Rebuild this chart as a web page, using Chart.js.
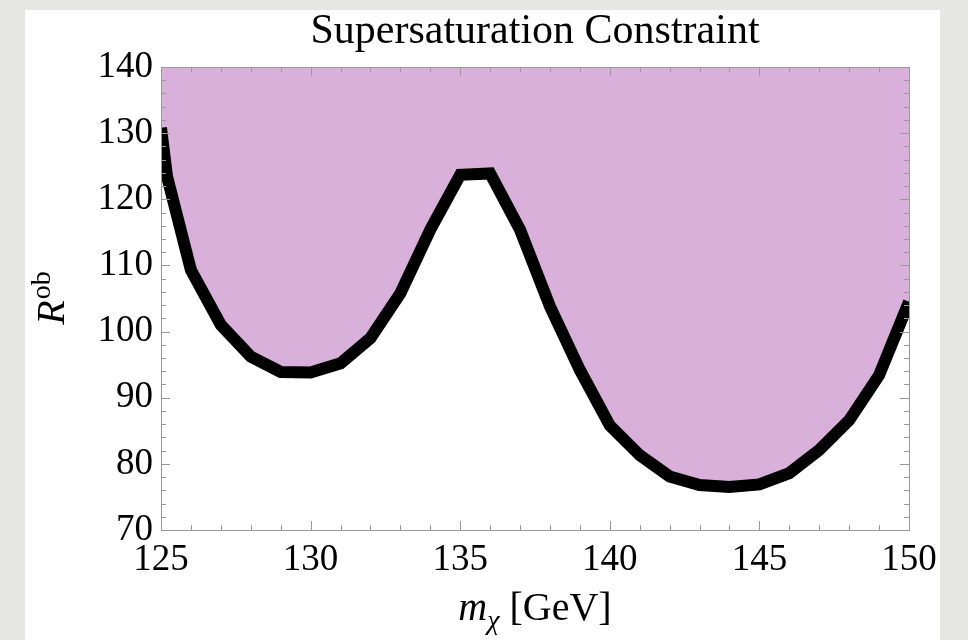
<!DOCTYPE html>
<html>
<head>
<meta charset="utf-8">
<script src="https://cdn.jsdelivr.net/npm/chart.js@4.4.1/dist/chart.umd.min.js"></script>
<style>
html,body{margin:0;padding:0;}
body{width:968px;height:640px;background:#e6e6e2;position:relative;overflow:hidden;}
#panel{position:absolute;left:25px;top:10px;width:915px;height:630px;background:#fff;}
#grafica{position:absolute;left:0;top:0;}
</style>
</head>
<body>
<div id="panel"></div>
<canvas id="grafica" width="968" height="640"></canvas>
<script>
// datos
var masas = [125, 125.2, 126, 127, 128, 129, 130, 131, 132, 133, 134, 135, 136, 137,
             138, 139, 140, 141, 142, 143, 144, 145, 146, 147, 148, 149, 150];
var rob = [130.8, 123.5, 109.3, 101.0, 96.2, 93.9, 93.8, 95.2, 99.0, 105.8, 115.4, 123.7, 123.9, 115.4,
           103.8, 94.2, 85.8, 81.3, 78.1, 76.8, 76.5, 76.9, 78.6, 82.1, 86.6, 93.4, 104.5];
var ticksX = [125, 130, 135, 140, 145, 150];
var ticksY = [70, 80, 90, 100, 110, 120, 130, 140];
var titulo = "Supersaturation Constraint";

var fuente = "'Liberation Serif', 'Times New Roman', serif";

var marco = {
    id: "marco",
    afterDatasetsDraw: function(chart){
        var ctx = chart.ctx, a = chart.chartArea;
        var sx = chart.scales.x, sy = chart.scales.y;
        ctx.save();
        ctx.strokeStyle = "#999999";
        ctx.lineWidth = 1;
        ctx.beginPath();
        for (var v = sx.min; v <= sx.max; v++){
            var px = Math.round(sx.getPixelForValue(v)) + 0.5;
            var l = (v % 5 == 0) ? 9 : 5;
            ctx.moveTo(px, a.bottom); ctx.lineTo(px, a.bottom - l);
            ctx.moveTo(px, a.top); ctx.lineTo(px, a.top + l);
        }
        for (var w = sy.min; w <= sy.max; w += 2){
            var py = Math.round(sy.getPixelForValue(w)) + 0.5;
            var l2 = (w % 10 == 0) ? 9 : 5;
            ctx.moveTo(a.left, py); ctx.lineTo(a.left + l2, py);
            ctx.moveTo(a.right, py); ctx.lineTo(a.right - l2, py);
        }
        ctx.stroke();
        ctx.strokeRect(Math.round(a.left) + 0.5, Math.round(a.top) + 0.5,
                       Math.round(a.right - a.left), Math.round(a.bottom - a.top));
        ctx.restore();
    },
    afterDraw: function(chart){
        var ctx = chart.ctx, a = chart.chartArea;
        var cx = (a.left + a.right) / 2;
        ctx.save();
        ctx.fillStyle = "#000";
        ctx.textBaseline = "alphabetic";
        // titulo
        ctx.font = "42px " + fuente;
        ctx.textAlign = "center";
        ctx.fillText(titulo, cx, 43);
        // eje x: m_chi [GeV]
        ctx.textAlign = "left";
        var fM = "italic 40px " + fuente, fSub = "italic 28px " + fuente, fN = "40px " + fuente;
        ctx.font = fM; var wM = ctx.measureText("m").width;
        ctx.font = fSub; var wC = ctx.measureText("\u03c7").width;
        ctx.font = fN; var wG = ctx.measureText(" [GeV]").width;
        var x0 = cx - (wM + wC + wG) / 2, base = 620;
        ctx.font = fM; ctx.fillText("m", x0, base);
        ctx.font = fSub; ctx.fillText("\u03c7", x0 + wM, base + 9);
        ctx.font = fN; ctx.fillText(" [GeV]", x0 + wM + wC, base);
        // eje y: R^ob
        var cy = (a.top + a.bottom) / 2;
        ctx.translate(64, cy);
        ctx.rotate(-Math.PI / 2);
        var fR = "italic 40px " + fuente, fSup = "28px " + fuente;
        ctx.font = fR; var wR = ctx.measureText("R").width;
        ctx.font = fSup; var wO = ctx.measureText("ob").width;
        var y0 = -(wR + wO) / 2;
        ctx.font = fR; ctx.fillText("R", y0, 0);
        ctx.font = fSup; ctx.fillText("ob", y0 + wR + 1, -14);
        ctx.restore();
    }
};

var canva = document.getElementById("grafica").getContext("2d");
var chartS = new Chart(canva, {
    type: "line",
    data: {
        datasets: [{
            label: "R ob",
            data: masas.map(function(m, i){ return {x: m, y: rob[i]}; }),
            borderColor: "#000000",
            borderWidth: 12,
            backgroundColor: "#d8b0d9",
            fill: "end",
            tension: 0,
            pointRadius: 0,
            clip: 0
        }]
    },
    options: {
        responsive: false,
        animation: false,
        layout: { padding: { top: 67, right: 59, left: 0, bottom: 0 } },
        plugins: {
            legend: { display: false },
            tooltip: { enabled: false },
            title: { display: false }
        },
        scales: {
            x: {
                type: "linear",
                min: 125, max: 150,
                afterFit: function(s){ s.height = 110; },
                afterBuildTicks: function(s){ s.ticks = ticksX.map(function(v){ return {value: v}; }); },
                grid: { display: false, drawTicks: false },
                border: { display: false },
                ticks: { color: "#000", padding: 8, maxRotation: 0, font: { family: fuente, size: 37 } }
            },
            y: {
                min: 70, max: 140,
                afterFit: function(s){ s.width = 161; },
                afterBuildTicks: function(s){ s.ticks = ticksY.map(function(v){ return {value: v}; }); },
                grid: { display: false, drawTicks: false },
                border: { display: false },
                ticks: { color: "#000", padding: 8, font: { family: fuente, size: 37 } }
            }
        }
    },
    plugins: [marco]
});
</script>
</body>
</html>
